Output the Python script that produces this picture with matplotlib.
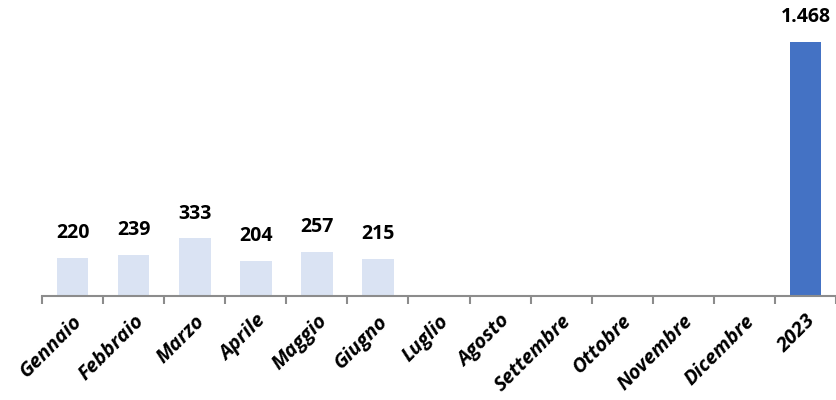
import matplotlib.pyplot as plt
import numpy as np

plt.rcParams['font.family'] = ['Open Sans', 'DejaVu Sans']

mesi = ['Gennaio', 'Febbraio', 'Marzo', 'Aprile', 'Maggio', 'Giugno', 'Luglio',
        'Agosto', 'Settembre', 'Ottobre', 'Novembre', 'Dicembre', '2023']
valori = [220, 239, 333, 204, 257, 215, None, None, None, None, None, None, 1468]
etichette = ['220', '239', '333', '204', '257', '215', '', '', '', '', '', '', '1.468']

fig = plt.figure(figsize=(8.37, 4.0), dpi=100)
ax = fig.add_axes([42/837, 104/400, 794/837, 296/400])

x = np.arange(len(mesi))
colori = ['#DAE3F3'] * 12 + ['#4472C4']
for i, (v, lab) in enumerate(zip(valori, etichette)):
    if v is None:
        continue
    ax.bar(i, v, width=0.52, color=colori[i])
    ax.text(i, v + 85, lab, ha='center', va='bottom', fontsize=14, fontweight='bold')

ax.set_xlim(-0.5, 12.5)
ax.set_ylim(0, 1711)
for s in ['top', 'right', 'left']:
    ax.spines[s].set_visible(False)
ax.spines['bottom'].set_color('#8c8c8c')
ax.spines['bottom'].set_linewidth(1.5)
ax.set_yticks([])
ax.set_xticks(x)
ax.set_xticklabels(mesi, rotation=45, ha='right', rotation_mode='anchor',
                   fontsize=14.5, fontweight='bold', fontstyle='italic')
ax.tick_params(axis='x', which='major', length=0, pad=11)
ax.set_xticks(np.arange(-0.5, 13, 1), minor=True)
ax.tick_params(axis='x', which='minor', length=6, width=1.5, color='#8c8c8c')

fig.savefig('out.png', dpi=100)
